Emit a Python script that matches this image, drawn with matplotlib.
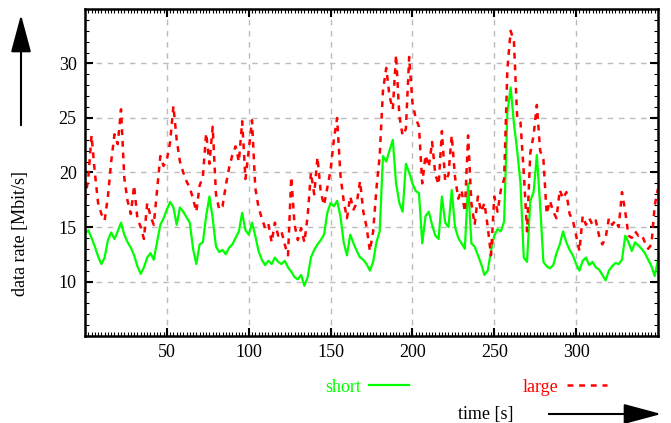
import numpy as np
import matplotlib
matplotlib.use("Agg")
import matplotlib.pyplot as plt
from matplotlib.ticker import MultipleLocator

# sample times (s), one value every 2 s
time_s = np.arange(0, 351, 2)

# data rate of the "short" transfers [Mbit/s]
short_rate = [
    14.4, 14.7, 14.0, 13.2, 12.3, 11.6, 12.2, 13.8, 14.5, 13.9,
    14.6, 15.4, 14.3, 13.6, 13.1, 12.4, 11.4, 10.7, 11.3, 12.2,
    12.6, 12.0, 13.6, 15.2, 15.8, 16.6, 17.3, 16.8, 15.2, 16.8,
    16.4, 15.9, 15.4, 13.0, 11.6, 13.4, 13.6, 16.0, 17.8, 15.8,
    13.2, 12.7, 12.9, 12.5, 13.1, 13.4, 14.0, 14.6, 16.3, 14.7,
    14.3, 15.4, 14.2, 12.8, 12.0, 11.5, 11.9, 11.6, 12.2, 11.8,
    11.6, 11.9, 11.3, 10.9, 10.4, 10.2, 10.6, 9.6, 10.4, 12.2,
    12.9, 13.4, 13.8, 14.3, 16.3, 17.2, 16.9, 17.4, 16.0, 13.6,
    12.4, 14.3, 13.5, 12.8, 12.2, 12.0, 11.6, 11.0, 11.8, 13.6,
    14.6, 21.5, 21.0, 22.0, 23.0, 19.0, 17.2, 16.4, 20.8, 20.0,
    19.0, 18.3, 18.1, 13.5, 16.0, 16.4, 15.2, 14.2, 13.9, 17.8,
    15.4, 15.0, 18.4, 15.0, 14.0, 13.5, 13.0, 19.0, 13.5, 13.2,
    12.4, 11.6, 10.6, 11.0, 12.8, 14.2, 14.8, 14.6, 15.5, 25.5,
    27.8, 24.5, 22.0, 19.0, 12.2, 11.8, 17.4, 18.2, 21.6, 17.0,
    11.8, 11.4, 11.2, 11.5, 12.6, 13.4, 14.6, 13.6, 12.9, 12.4,
    11.6, 11.0, 11.9, 12.2, 11.5, 11.8, 11.3, 11.1, 10.6, 10.1,
    11.0, 11.4, 11.7, 11.6, 12.0, 14.2, 13.6, 12.8, 13.6, 13.3,
    13.0, 12.6, 12.0, 11.4, 10.5, 12.0,
]

# data rate of the "large" transfers [Mbit/s]
large_rate = [
    17.5, 19.5, 23.4, 20.0, 17.2, 16.2, 15.6, 17.8, 21.0, 23.5,
    22.6, 25.8, 19.5, 17.4, 16.2, 18.8, 15.8, 15.0, 13.9, 17.2,
    16.0, 15.2, 18.4, 21.5, 20.6, 21.2, 22.8, 26.1, 23.0, 21.0,
    20.0, 19.2, 18.6, 17.6, 16.4, 18.8, 19.6, 23.6, 20.8, 24.2,
    18.0, 16.6, 16.9, 18.8, 20.4, 21.6, 22.4, 21.0, 24.7, 19.4,
    22.0, 24.8, 18.6, 16.8, 15.8, 14.9, 15.3, 13.6, 15.4, 14.2,
    14.6, 13.4, 12.4, 19.6, 15.2, 13.8, 14.9, 13.6, 16.0, 20.0,
    18.0, 21.4, 18.2, 17.0, 18.6, 20.2, 23.0, 25.0, 19.8, 17.4,
    15.8, 17.8, 16.6, 17.2, 19.2, 16.4, 15.0, 12.8, 14.6, 18.5,
    21.5, 27.5, 29.6, 27.0, 25.8, 30.8, 25.2, 23.4, 24.0, 30.6,
    26.4, 25.0, 24.2, 19.0, 21.6, 20.5, 22.8, 19.8, 18.9, 23.8,
    19.2, 19.8, 23.4, 19.6, 17.6, 18.4, 16.4, 23.4, 17.2, 15.2,
    17.8, 16.4, 17.2, 15.0, 12.4, 17.8, 16.4, 18.4, 19.4, 29.5,
    33.0, 32.0, 25.0, 24.6, 20.0, 14.6, 21.8, 23.4, 26.2, 22.0,
    21.2, 16.2, 17.4, 16.4, 15.8, 18.4, 17.6, 18.2, 16.2, 15.6,
    14.2, 12.8, 16.0, 15.2, 15.8, 15.2, 15.6, 14.2, 13.4, 14.0,
    15.8, 15.2, 15.6, 15.0, 18.2, 16.4, 14.2, 14.0, 14.6, 14.2,
    14.3, 13.6, 13.0, 13.4, 17.0, 18.5,
]

x_ticks = [50, 100, 150, 200, 250, 300]
y_ticks = [10, 15, 20, 25, 30]

plt.rcParams["font.family"] = ["Liberation Serif", "DejaVu Serif"]
plt.rcParams["lines.scale_dashes"] = False

fig = plt.figure(figsize=(6.71, 4.23), dpi=100)
ax = fig.add_axes([85 / 671, 1 - 336 / 423, 573 / 671, 327 / 423])

ax.plot(time_s, short_rate, color="#00ff00", lw=1.6, label="short")
ax.plot(time_s, large_rate, color="#ff0000", lw=1.8, dashes=(4.2, 4.2),
        label="large")

ax.set_xlim(0, 350)
ax.set_ylim(5, 35)
ax.set_xticks(x_ticks)
ax.set_yticks(y_ticks)
ax.xaxis.set_minor_locator(MultipleLocator(2))
ax.yaxis.set_minor_locator(MultipleLocator(1))
ax.tick_params(which="both", direction="in", top=True, right=True,
               labelsize=13, colors="black")
ax.tick_params(which="major", length=6, width=1.5, pad=6)
ax.tick_params(which="minor", length=3, width=0.8)
ax.grid(True, which="major", color="#bcbcbc", ls=(0, (4, 4)), lw=1.0)
for sp in ax.spines.values():
    sp.set_linewidth(1.8)

fig.text(21 / 671, 1 - 234 / 423, "data rate [Mbit/s]", rotation=90,
         ha="center", va="center", fontsize=13)
fig.text(486 / 671, 1 - 414 / 423, "time [s]", ha="center", va="center",
         fontsize=13)

arrow = dict(arrowstyle="-|>,head_length=1.3,head_width=0.35",
             color="black", lw=1.5, mutation_scale=18)
ax.annotate("", xy=(21, 411), xytext=(21, 295), xycoords="figure pixels",
            textcoords="figure pixels", arrowprops=arrow)
ax.annotate("", xy=(664, 9), xytext=(546, 9), xycoords="figure pixels",
            textcoords="figure pixels", arrowprops=arrow)

fig.legend(loc="center", bbox_to_anchor=(466 / 671, 1 - 387 / 423), ncol=2,
           frameon=False, markerfirst=False, fontsize=13,
           labelcolor="linecolor", handlelength=2.2, handletextpad=0.45,
           columnspacing=6.3)

fig.savefig("out.png", dpi=100)
